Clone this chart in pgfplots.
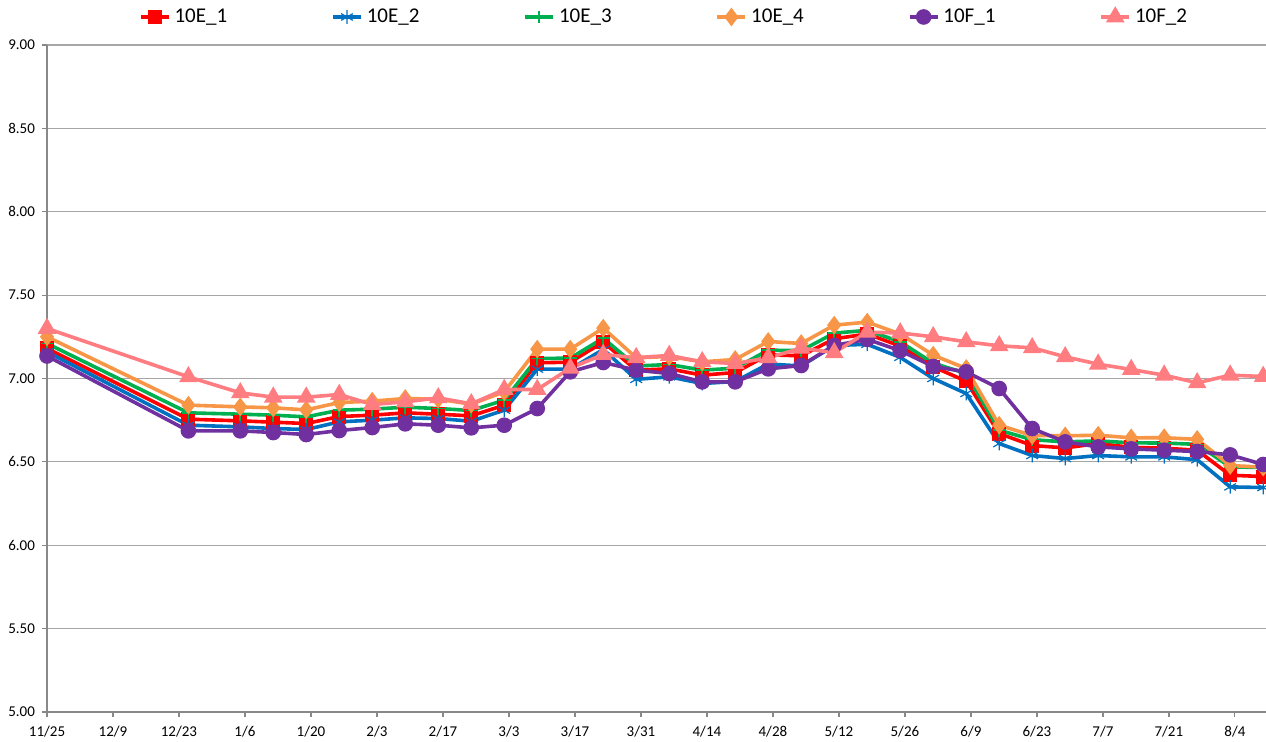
\documentclass[border=0pt]{standalone}
\usepackage{fontspec}
\setmainfont{Carlito}
\usepackage{pgfplots}
\usepackage{pgfplotstable}
\pgfplotsset{compat=1.18}

\definecolor{cA}{HTML}{FF0000}
\definecolor{cB}{HTML}{0070C0}
\definecolor{cC}{HTML}{00B050}
\definecolor{cD}{HTML}{F79646}
\definecolor{cE}{HTML}{7030A0}
\definecolor{cF}{HTML}{FF7C80}
\definecolor{cGrid}{HTML}{A6A6A6}
\definecolor{cAxis}{HTML}{888888}

% day 0 = 11/25
\pgfplotstableread{
day e1 e2 e3 e4 f1 f2
0 7.180 7.160 7.210 7.250 7.135 7.300
30 6.756 6.720 6.794 6.840 6.686 7.010
41 6.746 6.710 6.786 6.830 6.686 6.914
48 6.738 6.700 6.780 6.824 6.676 6.888
55 6.730 6.694 6.770 6.812 6.664 6.888
62 6.772 6.740 6.810 6.856 6.688 6.904
69 6.780 6.750 6.816 6.864 6.706 6.844
76 6.794 6.764 6.828 6.880 6.728 6.860
83 6.786 6.760 6.820 6.876 6.720 6.884
90 6.776 6.744 6.808 6.846 6.704 6.848
97 6.840 6.810 6.870 6.920 6.720 6.934
104 7.094 7.056 7.120 7.176 6.820 6.934
111 7.098 7.056 7.122 7.176 7.040 7.062
118 7.218 7.174 7.242 7.302 7.096 7.144
125 7.050 6.995 7.075 7.124 7.050 7.125
132 7.058 7.010 7.084 7.132 7.030 7.138
139 7.020 6.970 7.050 7.100 6.980 7.100
146 7.036 6.982 7.062 7.114 6.980 7.090
153 7.142 7.087 7.170 7.222 7.058 7.124
160 7.136 7.075 7.167 7.210 7.078 7.182
167 7.238 7.198 7.272 7.320 7.198 7.155
174 7.267 7.205 7.289 7.338 7.235 7.278
181 7.195 7.127 7.220 7.267 7.167 7.273
188 7.070 7.000 7.092 7.140 7.072 7.250
195 6.984 6.910 7.030 7.060 7.040 7.220
202 6.670 6.610 6.690 6.720 6.940 7.196
209 6.598 6.538 6.633 6.658 6.700 7.184
216 6.584 6.520 6.620 6.656 6.620 7.130
223 6.610 6.538 6.626 6.660 6.590 7.086
230 6.587 6.530 6.614 6.644 6.578 7.054
237 6.582 6.530 6.613 6.645 6.570 7.020
244 6.570 6.513 6.605 6.635 6.562 6.974
251 6.420 6.350 6.470 6.478 6.542 7.020
258 6.412 6.346 6.466 6.468 6.484 7.012
}\datatab

\begin{document}
\begin{tikzpicture}
\begin{axis}[
  scale only axis,
  width=609.5bp, height=333.5bp,
  xmin=0, xmax=258.6, ymin=5, ymax=9,
  axis x line*=bottom, axis y line*=left,
  axis line style={cAxis, line width=0.6bp},
  xtick={0,14,...,252},
  xticklabels={11/25,12/9,12/23,1/6,1/20,2/3,2/17,3/3,3/17,3/31,4/14,4/28,5/12,5/26,6/9,6/23,7/7,7/21,8/4},
  ytick={5,5.5,...,9},
  yticklabel style={/pgf/number format/.cd, fixed, fixed zerofill, precision=2},
  /pgf/number format/assume math mode=true,
  tick align=outside, major tick length=2.5bp,
  tick style={cAxis, line width=0.6bp},
  ymajorgrids, grid style={cGrid, line width=0.6bp},
  tick label style={font=\fontsize{7.5bp}{9bp}\selectfont, black},
  xticklabel style={yshift=-1bp},
  every axis plot/.append style={line width=1.8bp, mark options={solid}},
  legend columns=6,
  legend cell align=left,
  legend style={draw=none, fill=none, at={(0.507,1.042)}, anchor=center,
    font=\fontsize{10.5bp}{12bp}\selectfont,
    /tikz/every even column/.append style={column sep=50bp}},
  legend image code/.code={\draw[mark repeat=2,mark phase=2] plot coordinates {(0bp,0bp) (7bp,0bp) (14bp,0bp)};},
]
\addplot[cA, mark=square*, mark size=2.6bp] table[x=day, y=e1] {\datatab};
\addlegendentry{10E\_1}
\addplot[cB, mark=asterisk, mark size=3.4bp, mark options={line width=0.6bp}] table[x=day, y=e2] {\datatab};
\addlegendentry{10E\_2}
\addplot[cC, mark=+, mark size=3.2bp, mark options={line width=0.8bp}] table[x=day, y=e3] {\datatab};
\addlegendentry{10E\_3}
\addplot[cD, mark=diamond*, mark size=3.2bp] table[x=day, y=e4] {\datatab};
\addlegendentry{10E\_4}
\addplot[cE, mark=*, mark size=3bp] table[x=day, y=f1] {\datatab};
\addlegendentry{10F\_1}
\addplot[cF, mark=triangle*, mark size=3.6bp] table[x=day, y=f2] {\datatab};
\addlegendentry{10F\_2}
\end{axis}
\pgfresetboundingbox
\useasboundingbox (-23.5bp,-15bp) rectangle (609.5bp,356bp);
\end{tikzpicture}
\end{document}
